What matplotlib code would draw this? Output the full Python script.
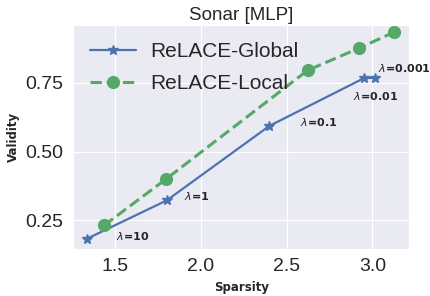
import matplotlib
matplotlib.use("Agg")
import matplotlib.pyplot as plt
import seaborn as sns

# data
global_sparsity = [1.337, 1.802, 2.40, 2.948, 3.012]
global_validity = [0.184, 0.323, 0.593, 0.765, 0.768]
local_sparsity = [1.436, 1.797, 2.622, 2.919, 3.128]
local_validity = [0.232, 0.400, 0.794, 0.874, 0.933]
lambda_labels = ["$\\lambda$=10", "$\\lambda$=1", "$\\lambda$=0.1", "$\\lambda$=0.01", "$\\lambda$=0.001"]
label_offsets = [(29, 3), (17, 4), (31, 4), (-11, -18), (3, 10)]  # pixels

sns.set_style("darkgrid")
plt.rcParams["font.family"] = ["Liberation Sans", "DejaVu Sans"]

fig, ax = plt.subplots(figsize=(4.3, 2.96), dpi=100)
ax.plot(global_sparsity, global_validity, color="#4C72B0", marker="*",
        markersize=7, linewidth=1.6, label="ReLACE-Global")
ax.plot(local_sparsity, local_validity, color="#55A868", marker="o",
        markersize=8.5, linewidth=2.2, linestyle="--", label="ReLACE-Local")

for x, y, txt, off in zip(global_sparsity, global_validity, lambda_labels, label_offsets):
    ax.annotate(txt, (x, y), xytext=off, textcoords="offset pixels",
                fontsize=8, fontweight="bold", family="DejaVu Sans",
                va="center", ha="left")

ax.set_xlim(1.256, 3.215)
ax.set_ylim(0.148, 0.958)
ax.set_xticks([1.5, 2.0, 2.5, 3.0])
ax.set_yticks([0.25, 0.50, 0.75])
ax.tick_params(labelsize=14)
ax.set_title("Sonar [MLP]", fontsize=13.5, pad=4)
ax.set_xlabel("Sparsity", fontsize=8.5, fontweight="bold", family="DejaVu Sans")
ax.set_ylabel("Validity", fontsize=8.5, fontweight="bold", family="DejaVu Sans")
ax.legend(loc="upper left", fontsize=15, frameon=False, handlelength=2.2,
          borderaxespad=0.4, labelspacing=0.65, handletextpad=0.7)

fig.subplots_adjust(left=0.17, right=0.952, top=0.915, bottom=0.16)
fig.savefig("out.png", dpi=100)
